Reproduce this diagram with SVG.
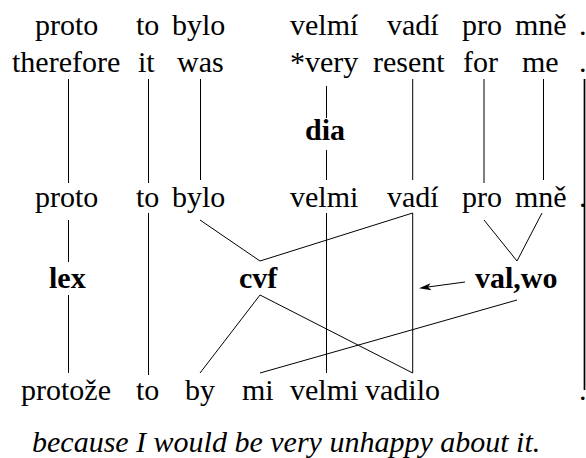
<svg xmlns="http://www.w3.org/2000/svg" width="586" height="458" viewBox="0 0 586 458">
<g id="row1">
<text x="35" y="35" style="font-family:'Liberation Serif';font-size:30px">proto</text>
<text x="136" y="35" style="font-family:'Liberation Serif';font-size:30px">to</text>
<text x="172" y="35" style="font-family:'Liberation Serif';font-size:30px">bylo</text>
<text x="290" y="35" style="font-family:'Liberation Serif';font-size:30px">velmí</text>
<text x="387" y="35" style="font-family:'Liberation Serif';font-size:30px">vadí</text>
<text x="462" y="35" style="font-family:'Liberation Serif';font-size:30px">pro</text>
<text x="515" y="35" style="font-family:'Liberation Serif';font-size:30px">mně</text>
<text x="579" y="35" style="font-family:'Liberation Serif';font-size:30px">.</text>
</g>
<g id="row2">
<text x="12" y="72" style="font-family:'Liberation Serif';font-size:30px">therefore</text>
<text x="138" y="72" style="font-family:'Liberation Serif';font-size:30px">it</text>
<text x="177" y="72" style="font-family:'Liberation Serif';font-size:30px">was</text>
<text x="290" y="72" style="font-family:'Liberation Serif';font-size:30px">*very</text>
<text x="373" y="72" style="font-family:'Liberation Serif';font-size:30px">resent</text>
<text x="463" y="72" style="font-family:'Liberation Serif';font-size:30px">for</text>
<text x="522" y="72" style="font-family:'Liberation Serif';font-size:30px">me</text>
<text x="579" y="72" style="font-family:'Liberation Serif';font-size:30px">.</text>
</g>
<g id="dia"><text x="305" y="140" style="font-family:'Liberation Serif';font-size:30px;font-weight:bold">dia</text></g>
<g id="row3">
<text x="35" y="207" style="font-family:'Liberation Serif';font-size:30px">proto</text>
<text x="136" y="207" style="font-family:'Liberation Serif';font-size:30px">to</text>
<text x="172" y="207" style="font-family:'Liberation Serif';font-size:30px">bylo</text>
<text x="290" y="207" style="font-family:'Liberation Serif';font-size:30px">velmi</text>
<text x="387" y="207" style="font-family:'Liberation Serif';font-size:30px">vadí</text>
<text x="462" y="207" style="font-family:'Liberation Serif';font-size:30px">pro</text>
<text x="515" y="207" style="font-family:'Liberation Serif';font-size:30px">mně</text>
<text x="579" y="207" style="font-family:'Liberation Serif';font-size:30px">.</text>
</g>
<g id="lex"><text x="49" y="288" style="font-family:'Liberation Serif';font-size:30px;font-weight:bold">lex</text></g>
<g id="cvf"><text x="239" y="288" style="font-family:'Liberation Serif';font-size:30px;font-weight:bold">cvf</text></g>
<g id="valwo"><text x="475" y="288" style="font-family:'Liberation Serif';font-size:30px;font-weight:bold">val,wo</text></g>
<g id="row5">
<text x="21" y="400" style="font-family:'Liberation Serif';font-size:30px">protože</text>
<text x="136" y="400" style="font-family:'Liberation Serif';font-size:30px">to</text>
<text x="185" y="400" style="font-family:'Liberation Serif';font-size:30px">by</text>
<text x="242" y="400" style="font-family:'Liberation Serif';font-size:30px">mi</text>
<text x="290" y="400" style="font-family:'Liberation Serif';font-size:30px">velmi</text>
<text x="365" y="400" style="font-family:'Liberation Serif';font-size:30px">vadilo</text>
<text x="579" y="400" style="font-family:'Liberation Serif';font-size:30px">.</text>
</g>
<g id="caption"><text x="32" y="452" style="font-family:'Liberation Serif';font-size:30px;font-style:italic">because I would be very unhappy about it.</text></g>
<g id="connectors" stroke="#000" stroke-width="1" fill="none">
<line x1="68.5" y1="79" x2="68.5" y2="183"/>
<line x1="148.5" y1="79" x2="148.5" y2="183"/>
<line x1="200.5" y1="79" x2="200.5" y2="180"/>
<line x1="326.5" y1="86" x2="326.5" y2="118"/>
<line x1="326.5" y1="150" x2="326.5" y2="180"/>
<line x1="412.7" y1="79" x2="412.7" y2="180"/>
<line x1="484" y1="79" x2="484" y2="183"/>
<line x1="543.5" y1="79" x2="543.5" y2="180"/>
<line x1="584.5" y1="79" x2="584.5" y2="390" stroke-width="1.7"/>
<line x1="68.5" y1="220" x2="68.5" y2="262"/>
<line x1="68.5" y1="295" x2="68.5" y2="373"/>
<line x1="148.5" y1="213" x2="148.5" y2="375"/>
<polyline points="200,220 260,261 412.7,213"/>
<line x1="412.7" y1="213" x2="412.7" y2="373"/>
<polyline points="200,373 260,295 412.7,373"/>
<line x1="326.5" y1="213" x2="326.5" y2="373"/>
<polyline points="484,220 517,261 542,213"/>
<line x1="517" y1="300" x2="260" y2="373"/>
<line x1="465" y1="282" x2="428" y2="287"/>
<path d="M419,288.2 L430.5,283.2 L428,287 L431.5,290.3 Z" fill="#000" stroke="none"/>
</g>
</svg>
